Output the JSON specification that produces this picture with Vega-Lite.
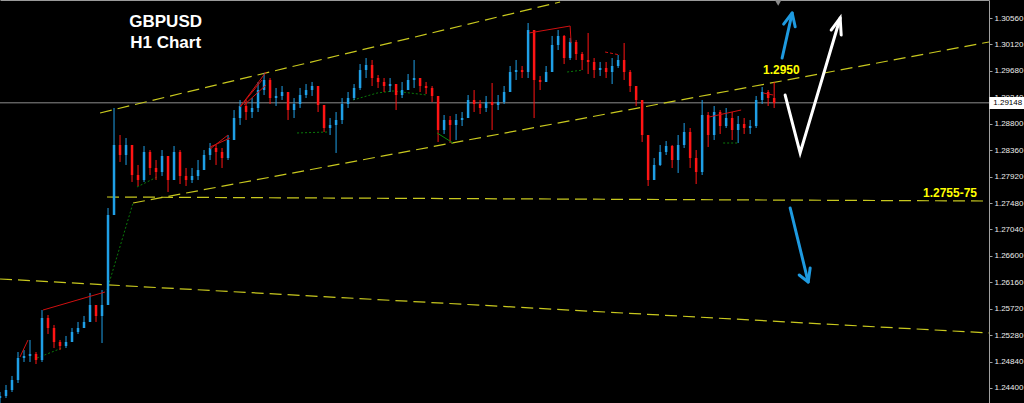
{
  "$schema": "https://vega.github.io/schema/vega-lite/v6.json",
  "width": 989,
  "height": 403,
  "autosize": {"type": "none"},
  "padding": {"left": 0, "top": 0, "right": 35, "bottom": 0},
  "background": "#000000",
  "config": {"view": {"stroke": null}, "font": "Liberation Sans", "axis": {"labelOverlap": false, "labelBound": false, "labelFlush": false}},
  "datasets": {
    "candles": [
      {"i":0,"o":1.24233,"h":1.24333,"l":1.24150,"c":1.24267},
      {"i":1,"o":1.24267,"h":1.24450,"l":1.24233,"c":1.24366},
      {"i":2,"o":1.24366,"h":1.24600,"l":1.24333,"c":1.24533},
      {"i":3,"o":1.24533,"h":1.24999,"l":1.24483,"c":1.24899},
      {"i":4,"o":1.24899,"h":1.25032,"l":1.24833,"c":1.24933},
      {"i":5,"o":1.24933,"h":1.25199,"l":1.24833,"c":1.24966},
      {"i":6,"o":1.24966,"h":1.24999,"l":1.24799,"c":1.24866},
      {"i":7,"o":1.24866,"h":1.25698,"l":1.24833,"c":1.25565},
      {"i":8,"o":1.25565,"h":1.25615,"l":1.25299,"c":1.25399},
      {"i":9,"o":1.25399,"h":1.25449,"l":1.25066,"c":1.25166},
      {"i":10,"o":1.25166,"h":1.25199,"l":1.25032,"c":1.25099},
      {"i":11,"o":1.25099,"h":1.25266,"l":1.25066,"c":1.25166},
      {"i":12,"o":1.25166,"h":1.25399,"l":1.25199,"c":1.25332},
      {"i":13,"o":1.25332,"h":1.25499,"l":1.25299,"c":1.25399},
      {"i":14,"o":1.25399,"h":1.25599,"l":1.25399,"c":1.25499},
      {"i":15,"o":1.25499,"h":1.25982,"l":1.25532,"c":1.25782},
      {"i":16,"o":1.25782,"h":1.25765,"l":1.25499,"c":1.25599},
      {"i":17,"o":1.25599,"h":1.26031,"l":1.25149,"c":1.25782},
      {"i":18,"o":1.25782,"h":1.27397,"l":1.25782,"c":1.27280},
      {"i":19,"o":1.27280,"h":1.29062,"l":1.27280,"c":1.28446},
      {"i":20,"o":1.28446,"h":1.28612,"l":1.28163,"c":1.28279},
      {"i":21,"o":1.28279,"h":1.28562,"l":1.28113,"c":1.28446},
      {"i":22,"o":1.28446,"h":1.28446,"l":1.27830,"c":1.27946},
      {"i":23,"o":1.27946,"h":1.28113,"l":1.27763,"c":1.27863},
      {"i":24,"o":1.27863,"h":1.28429,"l":1.27830,"c":1.28329},
      {"i":25,"o":1.28329,"h":1.28362,"l":1.27946,"c":1.28063},
      {"i":26,"o":1.28063,"h":1.28196,"l":1.27863,"c":1.27996},
      {"i":27,"o":1.27996,"h":1.28362,"l":1.27930,"c":1.28263},
      {"i":28,"o":1.28263,"h":1.28196,"l":1.27663,"c":1.27863},
      {"i":29,"o":1.27863,"h":1.28429,"l":1.27896,"c":1.28329},
      {"i":30,"o":1.28329,"h":1.28362,"l":1.27796,"c":1.27930},
      {"i":31,"o":1.27930,"h":1.28063,"l":1.27763,"c":1.27863},
      {"i":32,"o":1.27863,"h":1.28063,"l":1.27813,"c":1.27930},
      {"i":33,"o":1.27930,"h":1.28196,"l":1.27863,"c":1.28029},
      {"i":34,"o":1.28029,"h":1.28362,"l":1.28113,"c":1.28279},
      {"i":35,"o":1.28279,"h":1.28479,"l":1.28196,"c":1.28396},
      {"i":36,"o":1.28396,"h":1.28446,"l":1.28113,"c":1.28329},
      {"i":37,"o":1.28329,"h":1.28396,"l":1.28063,"c":1.28229},
      {"i":38,"o":1.28229,"h":1.28612,"l":1.28196,"c":1.28529},
      {"i":39,"o":1.28529,"h":1.29028,"l":1.28529,"c":1.28895},
      {"i":40,"o":1.28895,"h":1.29195,"l":1.28779,"c":1.29095},
      {"i":41,"o":1.29095,"h":1.29195,"l":1.28862,"c":1.28995},
      {"i":42,"o":1.28995,"h":1.29228,"l":1.28895,"c":1.29062},
      {"i":43,"o":1.29062,"h":1.29495,"l":1.28995,"c":1.29361},
      {"i":44,"o":1.29361,"h":1.29645,"l":1.29278,"c":1.29528},
      {"i":45,"o":1.29528,"h":1.29561,"l":1.29128,"c":1.29228},
      {"i":46,"o":1.29228,"h":1.29395,"l":1.29095,"c":1.29262},
      {"i":47,"o":1.29262,"h":1.29428,"l":1.29195,"c":1.29328},
      {"i":48,"o":1.29328,"h":1.29278,"l":1.28862,"c":1.29028},
      {"i":49,"o":1.29028,"h":1.29228,"l":1.28895,"c":1.29128},
      {"i":50,"o":1.29128,"h":1.29395,"l":1.29062,"c":1.29278},
      {"i":51,"o":1.29278,"h":1.29461,"l":1.29228,"c":1.29361},
      {"i":52,"o":1.29361,"h":1.29495,"l":1.29262,"c":1.29428},
      {"i":53,"o":1.29428,"h":1.29361,"l":1.28995,"c":1.29112},
      {"i":54,"o":1.29112,"h":1.29112,"l":1.28662,"c":1.28729},
      {"i":55,"o":1.28729,"h":1.28895,"l":1.28612,"c":1.28779},
      {"i":56,"o":1.28779,"h":1.28995,"l":1.28313,"c":1.28862},
      {"i":57,"o":1.28862,"h":1.29228,"l":1.28795,"c":1.29128},
      {"i":58,"o":1.29128,"h":1.29328,"l":1.29062,"c":1.29228},
      {"i":59,"o":1.29228,"h":1.29461,"l":1.29195,"c":1.29395},
      {"i":60,"o":1.29395,"h":1.29794,"l":1.29361,"c":1.29694},
      {"i":61,"o":1.29694,"h":1.29894,"l":1.29561,"c":1.29778},
      {"i":62,"o":1.29778,"h":1.29861,"l":1.29428,"c":1.29561},
      {"i":63,"o":1.29561,"h":1.29611,"l":1.29395,"c":1.29495},
      {"i":64,"o":1.29495,"h":1.29561,"l":1.29328,"c":1.29428},
      {"i":65,"o":1.29428,"h":1.29561,"l":1.29328,"c":1.29461},
      {"i":66,"o":1.29461,"h":1.29461,"l":1.29028,"c":1.29278},
      {"i":67,"o":1.29278,"h":1.29495,"l":1.29228,"c":1.29361},
      {"i":68,"o":1.29361,"h":1.29628,"l":1.29361,"c":1.29528},
      {"i":69,"o":1.29528,"h":1.29861,"l":1.29395,"c":1.29561},
      {"i":70,"o":1.29561,"h":1.29528,"l":1.29328,"c":1.29428},
      {"i":71,"o":1.29428,"h":1.29495,"l":1.29295,"c":1.29395},
      {"i":72,"o":1.29395,"h":1.29428,"l":1.29162,"c":1.29262},
      {"i":73,"o":1.29262,"h":1.29262,"l":1.28496,"c":1.28695},
      {"i":74,"o":1.28695,"h":1.28945,"l":1.28629,"c":1.28862},
      {"i":75,"o":1.28862,"h":1.28929,"l":1.28479,"c":1.28779},
      {"i":76,"o":1.28779,"h":1.28962,"l":1.28529,"c":1.28862},
      {"i":77,"o":1.28862,"h":1.28995,"l":1.28762,"c":1.28895},
      {"i":78,"o":1.28895,"h":1.29278,"l":1.28895,"c":1.29195},
      {"i":79,"o":1.29195,"h":1.29361,"l":1.28995,"c":1.29128},
      {"i":80,"o":1.29128,"h":1.29195,"l":1.28962,"c":1.29062},
      {"i":81,"o":1.29062,"h":1.29262,"l":1.28995,"c":1.29162},
      {"i":82,"o":1.29162,"h":1.29478,"l":1.28695,"c":1.29112},
      {"i":83,"o":1.29112,"h":1.29278,"l":1.29028,"c":1.29162},
      {"i":84,"o":1.29162,"h":1.29428,"l":1.29128,"c":1.29328},
      {"i":85,"o":1.29328,"h":1.29761,"l":1.29328,"c":1.29661},
      {"i":86,"o":1.29661,"h":1.29861,"l":1.29528,"c":1.29694},
      {"i":87,"o":1.29694,"h":1.29761,"l":1.29561,"c":1.29661},
      {"i":88,"o":1.29661,"h":1.30477,"l":1.29561,"c":1.30360},
      {"i":89,"o":1.30360,"h":1.30311,"l":1.28895,"c":1.29528},
      {"i":90,"o":1.29528,"h":1.29595,"l":1.29361,"c":1.29495},
      {"i":91,"o":1.29495,"h":1.29761,"l":1.29495,"c":1.29661},
      {"i":92,"o":1.29661,"h":1.30261,"l":1.29661,"c":1.30111},
      {"i":93,"o":1.30111,"h":1.30360,"l":1.30027,"c":1.30261},
      {"i":94,"o":1.30261,"h":1.30277,"l":1.29794,"c":1.29894},
      {"i":95,"o":1.29894,"h":1.30227,"l":1.29861,"c":1.30161},
      {"i":96,"o":1.30161,"h":1.30194,"l":1.29861,"c":1.29961},
      {"i":97,"o":1.29961,"h":1.29994,"l":1.29694,"c":1.29861},
      {"i":98,"o":1.29861,"h":1.30311,"l":1.29628,"c":1.29828},
      {"i":99,"o":1.29828,"h":1.29894,"l":1.29561,"c":1.29694},
      {"i":100,"o":1.29694,"h":1.29828,"l":1.29595,"c":1.29728},
      {"i":101,"o":1.29728,"h":1.29828,"l":1.29561,"c":1.29661},
      {"i":102,"o":1.29661,"h":1.29894,"l":1.29461,"c":1.29761},
      {"i":103,"o":1.29761,"h":1.29944,"l":1.29728,"c":1.29861},
      {"i":104,"o":1.29861,"h":1.30144,"l":1.29528,"c":1.29661},
      {"i":105,"o":1.29661,"h":1.29694,"l":1.29328,"c":1.29428},
      {"i":106,"o":1.29428,"h":1.29428,"l":1.29095,"c":1.29195},
      {"i":107,"o":1.29195,"h":1.29195,"l":1.28496,"c":1.28612},
      {"i":108,"o":1.28612,"h":1.28612,"l":1.27763,"c":1.27863},
      {"i":109,"o":1.27863,"h":1.28229,"l":1.27863,"c":1.28113},
      {"i":110,"o":1.28113,"h":1.28446,"l":1.28096,"c":1.28329},
      {"i":111,"o":1.28329,"h":1.28512,"l":1.28279,"c":1.28429},
      {"i":112,"o":1.28429,"h":1.28446,"l":1.28063,"c":1.28196},
      {"i":113,"o":1.28196,"h":1.28612,"l":1.27980,"c":1.28446},
      {"i":114,"o":1.28446,"h":1.28812,"l":1.28396,"c":1.28662},
      {"i":115,"o":1.28662,"h":1.28729,"l":1.28063,"c":1.28229},
      {"i":116,"o":1.28229,"h":1.28362,"l":1.27796,"c":1.27996},
      {"i":117,"o":1.27996,"h":1.29195,"l":1.27946,"c":1.28945},
      {"i":118,"o":1.28945,"h":1.28995,"l":1.28412,"c":1.28612},
      {"i":119,"o":1.28612,"h":1.29095,"l":1.28529,"c":1.28995},
      {"i":120,"o":1.28995,"h":1.29028,"l":1.28629,"c":1.28762},
      {"i":121,"o":1.28762,"h":1.29062,"l":1.28729,"c":1.28895},
      {"i":122,"o":1.28895,"h":1.28995,"l":1.28529,"c":1.28695},
      {"i":123,"o":1.28695,"h":1.28929,"l":1.28479,"c":1.28795},
      {"i":124,"o":1.28795,"h":1.28895,"l":1.28629,"c":1.28729},
      {"i":125,"o":1.28729,"h":1.28862,"l":1.28629,"c":1.28762},
      {"i":126,"o":1.28762,"h":1.29262,"l":1.28729,"c":1.29195},
      {"i":127,"o":1.29195,"h":1.29411,"l":1.29128,"c":1.29328},
      {"i":128,"o":1.29328,"h":1.29361,"l":1.29095,"c":1.29228},
      {"i":129,"o":1.29228,"h":1.29495,"l":1.29062,"c":1.29145}
    ],
    "lines": [
      {"id":"L1","kind":"ydash","k":0,"x":16.67,"p":1.28979},
      {"id":"L1","kind":"ydash","k":1,"x":93.33,"p":1.30827},
      {"id":"L2","kind":"ydash","k":0,"x":22.17,"p":1.27480},
      {"id":"L2","kind":"ydash","k":1,"x":164.8,"p":1.30161},
      {"id":"L3","kind":"ydash","k":0,"x":17.83,"p":1.27580},
      {"id":"L3","kind":"ydash","k":1,"x":164.8,"p":1.27513},
      {"id":"L4","kind":"ydash","k":0,"x":0,"p":1.26215},
      {"id":"L4","kind":"ydash","k":1,"x":164.8,"p":1.25316},
      {"id":"G1","kind":"gdot","k":0,"x":6.17,"p":1.24899},
      {"id":"G1","kind":"gdot","k":1,"x":10.33,"p":1.25066},
      {"id":"G2","kind":"gdot","k":0,"x":17.83,"p":1.26031},
      {"id":"G2","kind":"gdot","k":1,"x":22.17,"p":1.27480},
      {"id":"G3","kind":"gdot","k":0,"x":22.83,"p":1.27747},
      {"id":"G3","kind":"gdot","k":1,"x":26.17,"p":1.27913},
      {"id":"G4","kind":"gdot","k":0,"x":49.5,"p":1.28646},
      {"id":"G4","kind":"gdot","k":1,"x":54.5,"p":1.28662},
      {"id":"G5","kind":"gdot","k":0,"x":58.83,"p":1.29195},
      {"id":"G5","kind":"gdot","k":1,"x":62.83,"p":1.29311},
      {"id":"G5","kind":"gdot","k":2,"x":65.5,"p":1.29345},
      {"id":"G5","kind":"gdot","k":3,"x":71.17,"p":1.29278},
      {"id":"G6","kind":"gsolid","k":0,"x":72.83,"p":1.28646},
      {"id":"G6","kind":"gsolid","k":1,"x":75.5,"p":1.28479},
      {"id":"G7","kind":"gdot","k":0,"x":94.5,"p":1.29661},
      {"id":"G7","kind":"gdot","k":1,"x":97.17,"p":1.29694},
      {"id":"G8","kind":"gdot","k":0,"x":120.5,"p":1.28479},
      {"id":"G8","kind":"gdot","k":1,"x":122.83,"p":1.28479},
      {"id":"R1","kind":"rsolid","k":0,"x":3.33,"p":1.24916},
      {"id":"R1","kind":"rsolid","k":1,"x":4.67,"p":1.25199},
      {"id":"R2","kind":"rsolid","k":0,"x":7.17,"p":1.25698},
      {"id":"R2","kind":"rsolid","k":1,"x":17.5,"p":1.25998},
      {"id":"R3","kind":"rsolid","k":0,"x":40.0,"p":1.29079},
      {"id":"R3","kind":"rsolid","k":1,"x":44.33,"p":1.29661},
      {"id":"R4","kind":"rsolid","k":0,"x":40.0,"p":1.29079},
      {"id":"R4","kind":"rsolid","k":1,"x":43.67,"p":1.29528},
      {"id":"R5","kind":"rsolid","k":0,"x":40.67,"p":1.29112},
      {"id":"R5","kind":"rsolid","k":1,"x":44.33,"p":1.29445},
      {"id":"R6","kind":"rsolid","k":0,"x":35.0,"p":1.28412},
      {"id":"R6","kind":"rsolid","k":1,"x":38.33,"p":1.28562},
      {"id":"R7","kind":"rsolid","k":0,"x":35.0,"p":1.28379},
      {"id":"R7","kind":"rsolid","k":1,"x":38.0,"p":1.28612},
      {"id":"R8","kind":"rsolid","k":0,"x":88.17,"p":1.30311},
      {"id":"R8","kind":"rsolid","k":1,"x":95.0,"p":1.30427},
      {"id":"R8","kind":"rsolid","k":2,"x":95.17,"p":1.30144},
      {"id":"R9","kind":"rdot","k":0,"x":100.83,"p":1.29994},
      {"id":"R9","kind":"rdot","k":1,"x":103.33,"p":1.29944},
      {"id":"R10","kind":"rsolid","k":0,"x":118.17,"p":1.28912},
      {"id":"R10","kind":"rsolid","k":1,"x":123.5,"p":1.29028},
      {"id":"R11","kind":"rsolid","k":0,"x":127.17,"p":1.29312},
      {"id":"R11","kind":"rsolid","k":1,"x":128.83,"p":1.29278},
      {"id":"CUR","kind":"cur","k":0,"x":0,"p":1.29148},
      {"id":"CUR","kind":"cur","k":1,"x":164.8,"p":1.29148},
      {"id":"BU","kind":"blue","k":0,"x":130.33,"p":1.29894},
      {"id":"BU","kind":"blue","k":1,"x":132.0,"p":1.30644},
      {"id":"BUH","kind":"blue","k":0,"x":130.58,"p":1.30459},
      {"id":"BUH","kind":"blue","k":1,"x":132.0,"p":1.30644},
      {"id":"BUH","kind":"blue","k":2,"x":132.5,"p":1.30415},
      {"id":"BD","kind":"blue","k":0,"x":131.67,"p":1.27397},
      {"id":"BD","kind":"blue","k":1,"x":134.67,"p":1.26165},
      {"id":"BDH","kind":"blue","k":0,"x":133.17,"p":1.26281},
      {"id":"BDH","kind":"blue","k":1,"x":134.67,"p":1.26165},
      {"id":"BDH","kind":"blue","k":2,"x":135.0,"p":1.26398},
      {"id":"WV","kind":"white","k":0,"x":130.83,"p":1.29278},
      {"id":"WV","kind":"white","k":1,"x":133.33,"p":1.28313},
      {"id":"WV","kind":"white","k":2,"x":140.0,"p":1.30560},
      {"id":"WVH","kind":"white","k":0,"x":138.5,"p":1.30360},
      {"id":"WVH","kind":"white","k":1,"x":140.0,"p":1.30560},
      {"id":"WVH","kind":"white","k":2,"x":140.17,"p":1.30277}
    ],
    "texts": [
      {"kind":"title","label":"GBPUSD","x":27.6,"p":1.30494},
      {"kind":"title","label":"H1 Chart","x":27.6,"p":1.30144},
      {"kind":"level","label":"1.2950","x":130.2,"p":1.29694},
      {"kind":"level","label":"1.2755-75","x":158.3,"p":1.27647}
    ],
    "pricebox": [
      {"label":"1.29148","x":164.85,"x2":170.7,"p":1.29245,"p2":1.29045,"pm":1.29148}
    ],
    "marker": [
      {"x":129.67,"p":1.30810}
    ]
  },
  "layer": [
    {
      "data": {"name": "lines"},
      "transform": [{"filter": "datum.kind == 'cur'"}],
      "mark": {"type": "line", "stroke": "#8c8c8c", "strokeWidth": 1, "clip": true},
      "encoding": {
        "x": {"field": "x", "type": "quantitative", "scale": {"domain": [0, 164.8], "nice": false, "zero": false, "padding": 0},
              "axis": {"orient": "top", "labels": false, "ticks": false, "grid": false, "title": null, "domainColor": "#9a9a9a", "domainWidth": 1}},
        "y": {"field": "p", "type": "quantitative", "scale": {"domain": [1.2415, 1.3086], "nice": false, "zero": false, "padding": 0},
              "axis": {"orient": "right", "values": [1.244, 1.2484, 1.2528, 1.2572, 1.2616, 1.266, 1.2704, 1.2748, 1.2792, 1.2836, 1.288, 1.2924, 1.2968, 1.3012, 1.3056],
                       "tickCount": 15, "format": ".5f", "title": null, "grid": false, "domainColor": "#a0a0a0", "tickColor": "#a0a0a0", "tickSize": 3,
                       "labelOverlap": false, "labelBound": false, "labelFlush": false, "labelSeparation": 0,
                       "labelColor": "#ececec", "labelFontSize": 8, "labelFont": "Liberation Sans", "labelPadding": 2}},
        "detail": {"field": "id"},
        "order": {"field": "k"}
      }
    },
    {
      "data": {"name": "lines"},
      "transform": [{"filter": "datum.kind == 'ydash'"}],
      "mark": {"type": "line", "stroke": "#c8c81e", "strokeWidth": 1.2, "strokeDash": [12, 6], "clip": true},
      "encoding": {"x": {"field": "x", "type": "quantitative"}, "y": {"field": "p", "type": "quantitative"}, "detail": {"field": "id"}, "order": {"field": "k"}}
    },
    {
      "data": {"name": "lines"},
      "transform": [{"filter": "datum.kind == 'gdot'"}],
      "mark": {"type": "line", "stroke": "#0a7a0a", "strokeWidth": 1, "strokeDash": [2, 2], "clip": true},
      "encoding": {"x": {"field": "x", "type": "quantitative"}, "y": {"field": "p", "type": "quantitative"}, "detail": {"field": "id"}, "order": {"field": "k"}}
    },
    {
      "data": {"name": "candles"},
      "mark": {"type": "rule", "strokeWidth": 1, "clip": true},
      "encoding": {
        "x": {"field": "i", "type": "quantitative"},
        "y": {"field": "l", "type": "quantitative"},
        "y2": {"field": "h"},
        "stroke": {"condition": {"test": "datum.c >= datum.o", "value": "#1f9fe6"}, "value": "#ff1414"}
      }
    },
    {
      "data": {"name": "candles"},
      "mark": {"type": "bar", "size": 2.5, "clip": true},
      "encoding": {
        "x": {"field": "i", "type": "quantitative"},
        "y": {"field": "o", "type": "quantitative"},
        "y2": {"field": "c"},
        "color": {"condition": {"test": "datum.c >= datum.o", "value": "#1f9fe6"}, "value": "#ff1414"}
      }
    },
    {
      "data": {"name": "lines"},
      "transform": [{"filter": "datum.kind == 'gsolid'"}],
      "mark": {"type": "line", "stroke": "#0a8a0a", "strokeWidth": 1, "clip": true},
      "encoding": {"x": {"field": "x", "type": "quantitative"}, "y": {"field": "p", "type": "quantitative"}, "detail": {"field": "id"}, "order": {"field": "k"}}
    },
    {
      "data": {"name": "lines"},
      "transform": [{"filter": "datum.kind == 'rsolid'"}],
      "mark": {"type": "line", "stroke": "#d01010", "strokeWidth": 1, "clip": true},
      "encoding": {"x": {"field": "x", "type": "quantitative"}, "y": {"field": "p", "type": "quantitative"}, "detail": {"field": "id"}, "order": {"field": "k"}}
    },
    {
      "data": {"name": "lines"},
      "transform": [{"filter": "datum.kind == 'rdot'"}],
      "mark": {"type": "line", "stroke": "#d01010", "strokeWidth": 1, "strokeDash": [3, 2], "clip": true},
      "encoding": {"x": {"field": "x", "type": "quantitative"}, "y": {"field": "p", "type": "quantitative"}, "detail": {"field": "id"}, "order": {"field": "k"}}
    },
    {
      "data": {"name": "lines"},
      "transform": [{"filter": "datum.kind == 'blue'"}],
      "mark": {"type": "line", "stroke": "#1e9ae0", "strokeWidth": 3, "strokeCap": "round", "strokeJoin": "round", "clip": true},
      "encoding": {"x": {"field": "x", "type": "quantitative"}, "y": {"field": "p", "type": "quantitative"}, "detail": {"field": "id"}, "order": {"field": "k"}}
    },
    {
      "data": {"name": "lines"},
      "transform": [{"filter": "datum.kind == 'white'"}],
      "mark": {"type": "line", "stroke": "#ffffff", "strokeWidth": 3, "strokeCap": "round", "strokeJoin": "miter", "clip": true},
      "encoding": {"x": {"field": "x", "type": "quantitative"}, "y": {"field": "p", "type": "quantitative"}, "detail": {"field": "id"}, "order": {"field": "k"}}
    },
    {
      "data": {"name": "marker"},
      "mark": {"type": "point", "shape": "triangle-down", "filled": true, "color": "#8a8a8a", "size": 40, "opacity": 1},
      "encoding": {"x": {"field": "x", "type": "quantitative"}, "y": {"field": "p", "type": "quantitative"}}
    },
    {
      "data": {"name": "texts"},
      "transform": [{"filter": "datum.kind == 'title'"}],
      "mark": {"type": "text", "color": "#ffffff", "font": "Liberation Sans", "fontWeight": "bold", "fontSize": 17, "align": "center", "baseline": "middle"},
      "encoding": {"x": {"field": "x", "type": "quantitative"}, "y": {"field": "p", "type": "quantitative"}, "text": {"field": "label"}}
    },
    {
      "data": {"name": "texts"},
      "transform": [{"filter": "datum.kind == 'level'"}],
      "mark": {"type": "text", "color": "#ffff00", "font": "Liberation Sans", "fontWeight": "bold", "fontSize": 12, "align": "center", "baseline": "middle"},
      "encoding": {"x": {"field": "x", "type": "quantitative"}, "y": {"field": "p", "type": "quantitative"}, "text": {"field": "label"}}
    },
    {
      "data": {"name": "pricebox"},
      "mark": {"type": "rect", "color": "#ffffff", "clip": false},
      "encoding": {"x": {"field": "x", "type": "quantitative"}, "x2": {"field": "x2"}, "y": {"field": "p", "type": "quantitative"}, "y2": {"field": "p2"}}
    },
    {
      "data": {"name": "pricebox"},
      "mark": {"type": "text", "color": "#000000", "font": "Liberation Sans", "fontSize": 8, "align": "left", "baseline": "middle", "dx": 4, "clip": false},
      "encoding": {"x": {"field": "x", "type": "quantitative"}, "y": {"field": "pm", "type": "quantitative"}, "text": {"field": "label"}}
    }
  ]
}
